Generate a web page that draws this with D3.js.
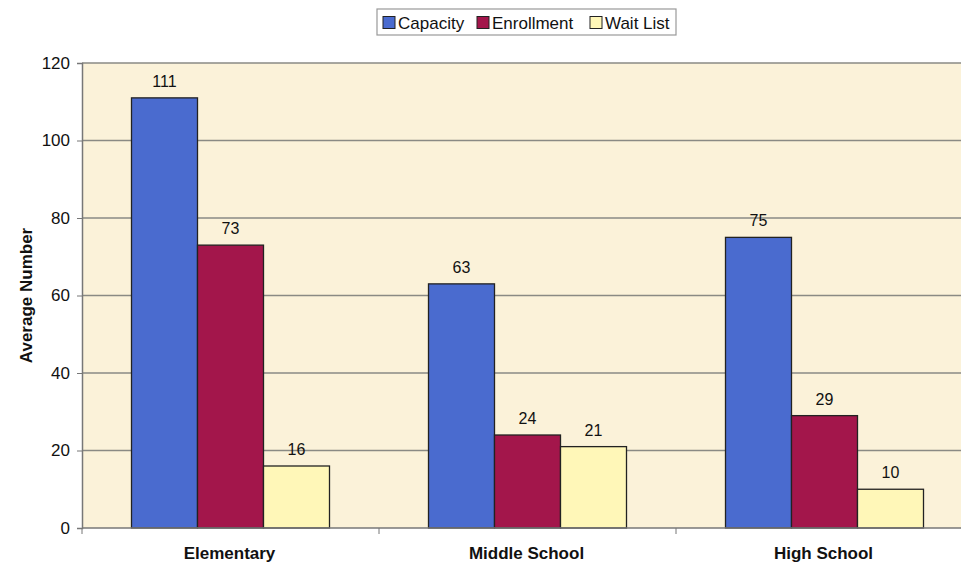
<!DOCTYPE html>
<html>
<head>
<meta charset="utf-8">
<script src="https://cdn.jsdelivr.net/npm/d3@7"></script>
<style>
body { margin: 0; background: #fff; }
text { font-family: "Liberation Sans", Arial, sans-serif; }
</style>
</head>
<body>
<div id="chart"></div>
<script>
var categories = ["Elementary", "Middle School", "High School"];
var seriesNames = ["Capacity", "Enrollment", "Wait List"];
var capacity = [111, 63, 75];
var enrollment = [73, 24, 29];
var waitList = [16, 21, 10];
var yTicks = [0, 20, 40, 60, 80, 100, 120];

var colours = ["#4a6bcf", "#a3164b", "#fff7b8"];

var width = 961, height = 563;
var plotLeft = 82, plotRight = 973, plotTop = 63, plotBottom = 528;

var svg = d3.select("#chart").append("svg")
	.attr("width", width)
	.attr("height", height);

var x0 = d3.scaleBand().domain(categories).range([plotLeft, plotRight]);
var x1 = d3.scaleBand().domain(seriesNames)
	.range([0, x0.bandwidth()])
	.paddingOuter(0.75);
var y = d3.scaleLinear().domain([0, 120]).range([plotBottom, plotTop]);

// plot background
svg.append("rect")
	.attr("x", plotLeft).attr("y", plotTop)
	.attr("width", plotRight - plotLeft).attr("height", plotBottom - plotTop)
	.style("fill", "#fbf2d9");

// gridlines
svg.selectAll("line.grid")
	.data(yTicks.filter(function (d) { return d > 0; }))
	.enter().append("line")
	.attr("class", "grid")
	.attr("x1", plotLeft).attr("x2", plotRight)
	.attr("y1", function (d) { return y(d); })
	.attr("y2", function (d) { return y(d); })
	.style("stroke", "#8a8a84")
	.style("stroke-width", 1.5);

var rows = categories.map(function (c, i) {
	return [capacity[i], enrollment[i], waitList[i]].map(function (v, j) {
		return { cat: c, series: seriesNames[j], value: v, idx: j };
	});
});

var groups = svg.selectAll("g.group")
	.data(rows)
	.enter().append("g")
	.attr("class", "group")
	.attr("transform", function (d, i) { return "translate(" + x0(categories[i]) + ",0)"; });

groups.selectAll("rect")
	.data(function (d) { return d; })
	.enter().append("rect")
	.attr("x", function (d) { return x1(d.series); })
	.attr("y", function (d) { return y(d.value); })
	.attr("width", x1.bandwidth())
	.attr("height", function (d) { return y(0) - y(d.value); })
	.style("fill", function (d) { return colours[d.idx]; })
	.style("stroke", "#222")
	.style("stroke-width", 1.3);

groups.selectAll("text.val")
	.data(function (d) { return d; })
	.enter().append("text")
	.attr("class", "val")
	.attr("x", function (d) { return x1(d.series) + x1.bandwidth() / 2; })
	.attr("y", function (d) { return y(d.value) - 11; })
	.attr("text-anchor", "middle")
	.style("font-size", "16px")
	.style("fill", "#111")
	.text(function (d) { return d.value; });

// y axis
var yAxis = svg.append("g")
	.attr("transform", "translate(" + plotLeft + ",0)")
	.call(d3.axisLeft(y).tickValues(yTicks).tickSize(5).tickPadding(7));
yAxis.select(".domain").style("stroke", "#777").style("stroke-width", 1.5);
yAxis.selectAll(".tick line").style("stroke", "#777");
yAxis.selectAll(".tick text").style("font-size", "17px").style("fill", "#111")
	.style("font-family", "'Liberation Sans', Arial, sans-serif");

// x axis
var xAxis = svg.append("g")
	.attr("transform", "translate(0," + plotBottom + ")");
xAxis.append("line")
	.attr("x1", plotLeft).attr("x2", plotRight)
	.style("stroke", "#777").style("stroke-width", 1.5);
xAxis.selectAll("line.sep")
	.data(categories)
	.enter().append("line")
	.attr("class", "sep")
	.attr("x1", function (d) { return x0(d); })
	.attr("x2", function (d) { return x0(d); })
	.attr("y1", 0).attr("y2", 6)
	.style("stroke", "#777");
xAxis.selectAll("text")
	.data(categories)
	.enter().append("text")
	.attr("x", function (d) { return x0(d) + x0.bandwidth() / 2 - 1; })
	.attr("y", 31)
	.attr("text-anchor", "middle")
	.style("font-size", "17px")
	.style("font-weight", "bold")
	.style("fill", "#111")
	.text(function (d) { return d; });

// y title
svg.append("text")
	.attr("transform", "translate(32," + ((plotTop + plotBottom) / 2) + ") rotate(-90)")
	.attr("text-anchor", "middle")
	.style("font-size", "17px")
	.style("font-weight", "bold")
	.style("fill", "#111")
	.text("Average Number");

// legend
var legend = svg.append("g").attr("transform", "translate(377,9)");
legend.append("rect")
	.attr("width", 299).attr("height", 26)
	.style("fill", "#fff")
	.style("stroke", "#999")
	.style("stroke-width", 1.2);
var legendX = [6, 100, 213];
var items = legend.selectAll("g.item")
	.data(seriesNames)
	.enter().append("g")
	.attr("class", "item")
	.attr("transform", function (d, i) { return "translate(" + legendX[i] + ",0)"; });
items.append("rect")
	.attr("y", 7.5).attr("width", 12).attr("height", 12)
	.style("fill", function (d, i) { return colours[i]; })
	.style("stroke", "#222");
items.append("text")
	.attr("x", 15).attr("y", 19.5)
	.style("font-size", "17px")
	.style("fill", "#111")
	.text(function (d) { return d; });
</script>
</body>
</html>
